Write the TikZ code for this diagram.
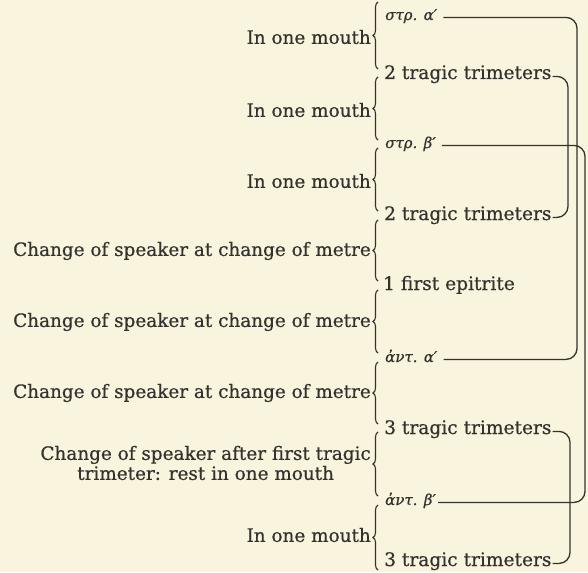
\documentclass[tikz,border=0pt]{standalone}
\usepackage{fontspec}
\setmainfont{DejaVu Serif}[FakeBold=0.5]
\newfontfamily\greekit{DejaVu Serif Italic}[FakeBold=0.6]
\usetikzlibrary{decorations.pathreplacing}
\definecolor{paper}{RGB}{248,244,221}
\definecolor{ink}{RGB}{52,50,46}
\tikzset{
  lefttext/.style={anchor=east, inner sep=0pt, text=ink, font=\fontsize{18.4}{20}\selectfont, align=center},
  righttext/.style={anchor=base west, inner sep=0pt, text=ink, font=\fontsize{18.6}{20}\selectfont},
  greektext/.style={anchor=base west, inner sep=0pt, text=ink, font=\fontsize{15}{17}\selectfont\greekit},
  bracestyle/.style={draw=ink, line width=1.1pt, decorate, decoration={brace, amplitude=5pt, aspect=0.5}},
  conn/.style={draw=ink, line width=1.3pt, rounded corners=11pt}
}
\begin{document}
\begin{tikzpicture}[x=1pt,y=-1pt]
\fill[paper] (0,0) rectangle (588,572);
\useasboundingbox (0,0) rectangle (588,572);
% right labels
\node[greektext] (r0) at (385,20) {στρ. α′};
\node[righttext] (r1) at (384,79) {2 tragic trimeters};
\node[greektext] (r2) at (385,148) {στρ. β′};
\node[righttext] (r3) at (384,220) {2 tragic trimeters};
\node[righttext] (r4) at (383,290) {1 first epitrite};
\node[greektext] (r5) at (385,362) {ἀντ. α′};
\node[righttext] (r6) at (384,434) {3 tragic trimeters};
\node[greektext] (r7) at (385,505) {ἀντ. β′};
\node[righttext] (r8) at (384,566) {3 tragic trimeters};
% brace ends
\coordinate (j0) at (378,2);
\coordinate (j1a) at (378,69);  \coordinate (j1b) at (378,77);
\coordinate (j2a) at (378,140); \coordinate (j2b) at (378,148);
\coordinate (j3a) at (378,211); \coordinate (j3b) at (378,220);
\coordinate (j4a) at (378,281); \coordinate (j4b) at (378,290);
\coordinate (j5a) at (378,353); \coordinate (j5b) at (378,362);
\coordinate (j6a) at (378,424); \coordinate (j6b) at (378,432);
\coordinate (j7a) at (378,496); \coordinate (j7b) at (378,505);
\coordinate (j8) at (378,570);
\draw[bracestyle] (j1a) -- (j0);
\draw[bracestyle] (j2a) -- (j1b);
\draw[bracestyle] (j3a) -- (j2b);
\draw[bracestyle] (j4a) -- (j3b);
\draw[bracestyle] (j5a) -- (j4b);
\draw[bracestyle] (j6a) -- (j5b);
\draw[bracestyle] (j7a) -- (j6b);
\draw[bracestyle] (j8) -- (j7b);
% left texts
\node[lefttext] (l1) at (371,37) {In one mouth};
\node[lefttext] (l2) at (371,110) {In one mouth};
\node[lefttext] (l3) at (371,181) {In one mouth};
\node[lefttext] (l4) at (371,251) {Change of speaker at change of metre};
\node[lefttext] (l5) at (371,322) {Change of speaker at change of metre};
\node[lefttext] (l6) at (371,393) {Change of speaker at change of metre};
\node[lefttext] (l7) at (371,463) {Change of speaker after first tragic\\trimeter: rest in one mouth};
\node[lefttext] (l8) at (371,535) {In one mouth};
% connectors
\coordinate (xa) at (577,0);
\coordinate (xb) at (568,0);
\coordinate (xc) at (585,0);
\coordinate (xd) at (570,0);
\draw[conn] ([xshift=6pt]r0.mid east) -- (r0.mid east -| xa) -- (r5.mid east -| xa) -- ([xshift=6pt]r5.mid east);
\draw[conn] ([xshift=1pt]r1.mid east) -- (r1.mid east -| xb) -- (r3.mid east -| xb) -- ([xshift=1pt]r3.mid east);
\draw[conn] ([xshift=6pt]r2.mid east) -- (r2.mid east -| xc) -- (r7.mid east -| xc) -- ([xshift=2pt]r7.mid east);
\draw[conn] ([xshift=1pt]r6.mid east) -- (r6.mid east -| xd) -- (r8.mid east -| xd) -- ([xshift=1pt]r8.mid east);
\end{tikzpicture}
\end{document}
